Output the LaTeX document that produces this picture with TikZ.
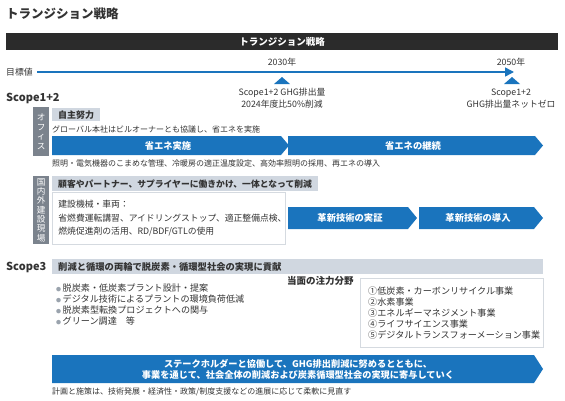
\documentclass[tikz,border=0pt]{standalone}
\usepackage{fontspec}
\setmainfont{Noto Sans CJK JP}
\usetikzlibrary{arrows.meta}
\definecolor{bl}{HTML}{1A74BD}
\definecolor{dk}{HTML}{2B2B2B}
\definecolor{gv}{HTML}{7B838D}
\definecolor{lh}{HTML}{D0D7E0}
\definecolor{tx}{HTML}{333333}
\definecolor{bd}{HTML}{D5DAE0}
\definecolor{bu}{HTML}{9AA3AD}
\newcommand{\mybul}{{\fontsize{5}{5}\selectfont\color{bu}●}}
\begin{document}
\begin{tikzpicture}[x=1pt,y=-1pt,
  every node/.style={inner sep=0pt, text=tx},
  lt/.style={anchor=west},
  fsmall/.style={font=\fontsize{8}{10}\selectfont},
  fmid/.style={font=\fontsize{8.8}{11}\selectfont},
  flist/.style={font=\fontsize{9.1}{11}\selectfont},
  fhead/.style={font=\fontsize{9}{11}\selectfont\bfseries},
  vlab/.style={fill=gv, text=white, minimum width=16pt, align=center, anchor=north west},
  hdr/.style={fill=lh, anchor=north west, inner xsep=6pt, minimum height=15pt, align=left, fhead},
  arrowtxt/.style={text=white, font=\fontsize{9.3}{12}\selectfont\bfseries},
  chev/.style={fill=bl},
  wbox/.style={draw=bd, line width=0.8pt, fill=white, anchor=north west, align=left, inner xsep=6pt},
  scopelab/.style={anchor=west, font=\fontsize{11}{13}\selectfont\bfseries}
]
\useasboundingbox (0,0) rectangle (565,400);

% title
\node[lt, font=\fontsize{12.5}{14}\selectfont\bfseries] (title) at (6,14) {トランジション戦略};

% dark bar
\node[fill=dk, minimum width=552pt, minimum height=17pt, text=white,
      font=\fontsize{9.5}{11}\selectfont\bfseries] (bar) at (282,41.5) {トランジション戦略};

% timeline
\node[lt, fmid] (goal) at (6,72) {目標値};
\coordinate (tl0) at (37,72);
\coordinate (tl1) at (514,72);
\draw[bl, line width=1.6pt, -{Triangle[length=9pt,width=9pt]}] (tl0) -- (tl1);
\node[fmid] (y2030) at (282,62) {2030年};
\node[fmid] (y2050) at (511,62) {2050年};
\fill[bl] (274,84) -- (290,84) -- (282,77) -- cycle;
\fill[bl] (504,84) -- (520,84) -- (512,77) -- cycle;
\node[fmid] (g30a) at (282,93) {Scope1+2 GHG排出量};
\node[fmid] (g30b) at (282,104) {2024年度比50\%削減};
\node[fmid] (g50a) at (511,93) {Scope1+2};
\node[fmid] (g50b) at (511,104) {GHG排出量ネットゼロ};

% Scope1+2
\node[scopelab] (s12) at (6,98) {Scope1+2};

% office
\node[vlab, minimum height=49pt, font=\fontsize{8.6}{9.5}\selectfont] (office) at (33,107) {オ\\フ\\ィ\\ス};
\node[fill=lh, anchor=north west, inner xsep=6pt, minimum height=13pt, fhead] (jishu) at (52,108) {自主努力};
\node[lt, fsmall] (gl) at (52,129) {グローバル本社はビルオーナーとも協議し、省エネを実施};
\fill[chev] (52,136) -- (281,136) -- (289,145.5) -- (281,155) -- (52,155) -- cycle;
\node[arrowtxt] (a1) at (168,145.5) {省エネ実施};
\fill[chev] (288,136) -- (535,136) -- (543,145.5) -- (535,155) -- (288,155) -- cycle;
\node[arrowtxt] (a2) at (413,145.5) {省エネの継続};
\node[lt, fsmall] (shomei) at (52,163.5) {照明・電気機器のこまめな管理、冷暖房の適正温度設定、高効率照明の採用、再エネの導入};

% construction sites
\node[vlab, minimum height=68pt, font=\fontsize{8.6}{9.3}\selectfont] (site) at (33,176) {国\\内\\外\\建\\設\\現\\場};
\node[hdr, text width=254pt, font=\fontsize{8.8}{11}\selectfont\bfseries] (kokyaku) at (52,176) {顧客やパートナー、サプライヤーに働きかけ、一体となって削減};
\node[wbox, text width=221pt, minimum height=52pt, font=\fontsize{8.8}{13.5}\selectfont] (kensetsu) at (52,192)
  {建設機械・車両：\\省燃費運転講習、アイドリングストップ、適正整備点検、\\燃焼促進剤の活用、RD/BDF/GTLの使用};
\fill[chev] (288,207) -- (408,207) -- (417,218) -- (408,229) -- (288,229) -- cycle;
\node[arrowtxt] (a3) at (350,218) {革新技術の実証};
\fill[chev] (419,207) -- (534,207) -- (543,218) -- (534,229) -- (419,229) -- cycle;
\node[arrowtxt] (a4) at (478,218) {革新技術の導入};

% Scope3
\node[scopelab] (s3) at (6,267) {Scope3};
\node[hdr, text width=479pt, font=\fontsize{9.3}{11}\selectfont\bfseries] (junkan) at (52,259) {削減と循環の両輪で脱炭素・循環型社会の実現に貢献};
\node[lt, flist] (b1) at (56,288) {\mybul\,脱炭素・低炭素プラント設計・提案};
\node[lt, flist] (b2) at (56,299) {\mybul\,デジタル技術によるプラントの環境負荷低減};
\node[lt, flist] (b3) at (56,310) {\mybul\,脱炭素型転換プロジェクトへの関与};
\node[lt, flist] (b4) at (56,321) {\mybul\,グリーン調達\quad 等};
\node[lt, font=\fontsize{9.5}{11}\selectfont\bfseries] (toumen) at (287,281) {当面の注力分野};
\node[draw=bd, line width=0.8pt, fill=white, anchor=north west, minimum width=183pt, minimum height=69pt] (focus) at (360,278) {};
\node[anchor=west, align=left, flist] (focustxt) at ([xshift=8pt,yshift=-0.5pt]focus.west)
  {①低炭素・カーボンリサイクル事業\\②水素事業\\③エネルギーマネジメント事業\\④ライフサイエンス事業\\⑤デジタルトランスフォーメーション事業};

% bottom arrow
\fill[chev] (52,355) -- (534,355) -- (543,369) -- (534,383) -- (52,383) -- cycle;
\node[arrowtxt, align=center, font=\fontsize{9.2}{11.5}\selectfont\bfseries] (msg) at (298,369.5)
  {ステークホルダーと協働して、GHG排出削減に努めるとともに、\\事業を通じて、社会全体の削減および炭素循環型社会の実現に寄与していく};
\node[lt, fsmall] (note) at (52,392) {計画と施策は、技術発展・経済性・政策/制度支援などの進展に応じて柔軟に見直す};
\end{tikzpicture}
\end{document}
